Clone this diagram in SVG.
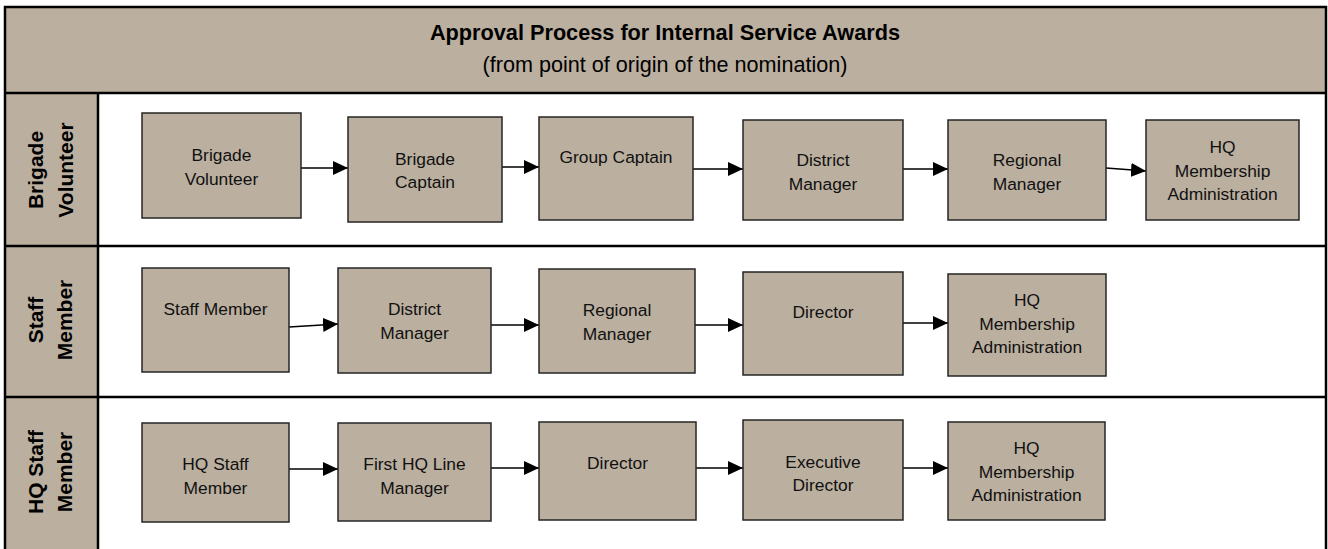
<svg xmlns="http://www.w3.org/2000/svg" width="1328" height="549" viewBox="0 0 1328 549">
<style>
.tan{fill:#BBAF9F}
.frame{fill:none;stroke:#000;stroke-width:2.5}
.sep{stroke:#000;stroke-width:2.5;fill:none}
.box{fill:#BBAF9F;stroke:#262626;stroke-width:1.5}
.t{font-family:"Liberation Sans",Arial,sans-serif;font-size:17.4px;fill:#111;text-anchor:middle}
.lane{font-family:"Liberation Sans",Arial,sans-serif;font-size:21px;font-weight:bold;fill:#000;text-anchor:middle}
.title{font-family:"Liberation Sans",Arial,sans-serif;font-size:21.7px;font-weight:bold;fill:#000;text-anchor:middle}
.sub{font-family:"Liberation Sans",Arial,sans-serif;font-size:21.6px;fill:#000;text-anchor:middle}
.c{stroke:#000;stroke-width:1.6;fill:none;marker-end:url(#ah)}
</style>
<defs>
<marker id="ah" markerUnits="userSpaceOnUse" markerWidth="15" markerHeight="14" refX="15" refY="7" orient="auto">
<path d="M0,0 L15,7 L0,14 Z" fill="#000"/>
</marker>
</defs>
<rect x="0" y="0" width="1328" height="549" fill="#fff"/>
<g id="frame">
<rect class="tan" x="5" y="7" width="1321" height="86"/>
<rect class="tan" x="5" y="93" width="93" height="460"/>
<rect class="frame" x="5" y="7" width="1321" height="560"/>
<line class="sep" x1="5" y1="93" x2="1326" y2="93"/>
<line class="sep" x1="5" y1="246" x2="1326" y2="246"/>
<line class="sep" x1="5" y1="397" x2="1326" y2="397"/>
<line class="sep" x1="98" y1="93" x2="98" y2="549"/>
<text class="title" x="665" y="40">Approval Process for Internal Service Awards</text>
<text class="sub" x="665" y="72">(from point of origin of the nomination)</text>
</g>
<g id="lane-brigade-volunteer">
<text class="lane" transform="translate(43,170) rotate(-90)"><tspan x="0" y="0">Brigade</tspan><tspan x="0" y="30">Volunteer</tspan></text>
</g>
<g id="lane-staff-member">
<text class="lane" transform="translate(43,320) rotate(-90)"><tspan x="0" y="0">Staff</tspan><tspan x="0" y="29">Member</tspan></text>
</g>
<g id="lane-hq-staff-member">
<text class="lane" transform="translate(43,472) rotate(-90)"><tspan x="0" y="0">HQ Staff</tspan><tspan x="0" y="29">Member</tspan></text>
</g>
<g id="connectors">
<line class="c" x1="301" y1="168" x2="348" y2="168"/>
<line class="c" x1="502" y1="167" x2="539" y2="167"/>
<line class="c" x1="693" y1="169" x2="743" y2="169"/>
<line class="c" x1="903" y1="169" x2="948" y2="169"/>
<line class="c" x1="1106" y1="168" x2="1146" y2="171"/>
<line class="c" x1="289" y1="327" x2="338" y2="324"/>
<line class="c" x1="491" y1="325" x2="539" y2="325"/>
<line class="c" x1="695" y1="325" x2="743" y2="325"/>
<line class="c" x1="903" y1="323" x2="948" y2="323"/>
<line class="c" x1="289" y1="469" x2="338" y2="469"/>
<line class="c" x1="491" y1="468" x2="539" y2="468"/>
<line class="c" x1="696" y1="468" x2="743" y2="468"/>
<line class="c" x1="903" y1="468" x2="948" y2="468"/>
</g>
<g id="bv-brigade-volunteer"><rect class="box" x="142" y="113" width="159" height="105"/><text class="t"><tspan x="221.5" y="161">Brigade</tspan><tspan x="221.5" y="184.5">Volunteer</tspan></text></g>
<g id="bv-brigade-captain"><rect class="box" x="348" y="117" width="154" height="105"/><text class="t"><tspan x="425" y="164.5">Brigade</tspan><tspan x="425" y="188">Captain</tspan></text></g>
<g id="bv-group-captain"><rect class="box" x="539" y="117" width="154" height="103"/><text class="t" x="616" y="163">Group Captain</text></g>
<g id="bv-district-manager"><rect class="box" x="743" y="120" width="160" height="100"/><text class="t"><tspan x="823" y="166">District</tspan><tspan x="823" y="189.5">Manager</tspan></text></g>
<g id="bv-regional-manager"><rect class="box" x="948" y="120" width="158" height="100"/><text class="t"><tspan x="1027" y="166">Regional</tspan><tspan x="1027" y="189.5">Manager</tspan></text></g>
<g id="bv-hq-membership"><rect class="box" x="1146" y="120" width="153" height="100"/><text class="t"><tspan x="1222.5" y="153">HQ</tspan><tspan x="1222.5" y="176.5">Membership</tspan><tspan x="1222.5" y="200">Administration</tspan></text></g>
<g id="sm-staff-member"><rect class="box" x="142" y="268" width="147" height="104"/><text class="t" x="215.5" y="315">Staff Member</text></g>
<g id="sm-district-manager"><rect class="box" x="338" y="268" width="153" height="105"/><text class="t"><tspan x="414.5" y="315">District</tspan><tspan x="414.5" y="338.5">Manager</tspan></text></g>
<g id="sm-regional-manager"><rect class="box" x="539" y="269" width="156" height="104"/><text class="t"><tspan x="617" y="316">Regional</tspan><tspan x="617" y="339.5">Manager</tspan></text></g>
<g id="sm-director"><rect class="box" x="743" y="272" width="160" height="103"/><text class="t" x="823" y="318">Director</text></g>
<g id="sm-hq-membership"><rect class="box" x="948" y="274" width="158" height="102"/><text class="t"><tspan x="1027" y="306">HQ</tspan><tspan x="1027" y="329.5">Membership</tspan><tspan x="1027" y="353">Administration</tspan></text></g>
<g id="hq-hq-staff-member"><rect class="box" x="142" y="423" width="147" height="99"/><text class="t"><tspan x="215.5" y="470">HQ Staff</tspan><tspan x="215.5" y="493.5">Member</tspan></text></g>
<g id="hq-first-line-manager"><rect class="box" x="338" y="423" width="153" height="98"/><text class="t"><tspan x="414.5" y="470">First HQ Line</tspan><tspan x="414.5" y="493.5">Manager</tspan></text></g>
<g id="hq-director"><rect class="box" x="539" y="422" width="157" height="98"/><text class="t" x="617.5" y="469">Director</text></g>
<g id="hq-executive-director"><rect class="box" x="743" y="420" width="160" height="100"/><text class="t"><tspan x="823" y="467.5">Executive</tspan><tspan x="823" y="491">Director</tspan></text></g>
<g id="hq-hq-membership"><rect class="box" x="948" y="422" width="157" height="98"/><text class="t"><tspan x="1026.5" y="454">HQ</tspan><tspan x="1026.5" y="477.5">Membership</tspan><tspan x="1026.5" y="501">Administration</tspan></text></g>
</svg>
